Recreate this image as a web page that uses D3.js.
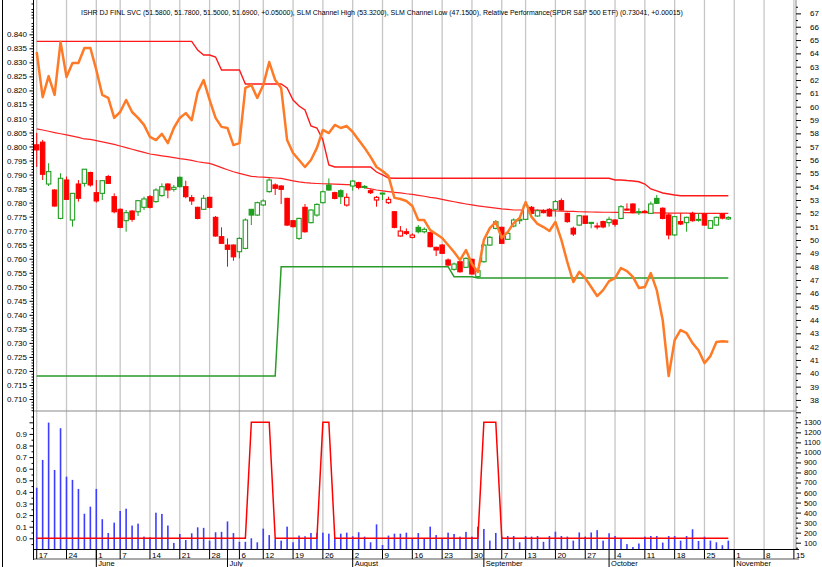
<!DOCTYPE html>
<html>
<head>
<meta charset="utf-8">
<script src="https://cdn.jsdelivr.net/npm/d3@7"></script>
<style>
  body { margin: 0; background: #fff; }
  svg { display: block; font-family: 'Liberation Sans', Arial, sans-serif; }
</style>
</head>
<body>
<svg id="chart" width="822" height="567"></svg>
<script>
// Daily prices, 17 May - 29 Oct 2010 (one entry per trading day)
const open = [57.14, 57.34, 54.20, 53.75, 51.62, 54.50, 51.50, 54.20, 54.25, 55.06,
  53.55, 53.50, 54.76, 53.25, 52.30, 51.45, 52.17, 52.12, 52.45, 53.25,
  52.88, 53.33, 54.20, 53.80, 54.70, 54.00, 53.18, 52.45, 52.30, 53.20,
  51.70, 50.25, 49.62, 49.62, 49.12, 49.37, 52.30, 51.87, 52.63, 53.63,
  54.13, 54.05, 53.12, 51.45, 50.12, 52.45, 51.30, 51.87, 52.80, 54.12,
  53.55, 53.70, 52.62, 54.05, 54.30, 53.97, 53.70, 53.00, 53.48, 52.80,
  52.12, 50.30, 50.62, 50.20, 50.95, 50.62, 50.55, 49.45, 49.62, 48.50,
  47.80, 48.37, 47.95, 48.55, 47.25, 48.37, 49.62, 50.87, 50.95, 50.05,
  51.05, 51.45, 51.55, 52.45, 51.80, 52.20, 52.30, 52.30, 52.95, 52.00,
  50.88, 51.12, 51.80, 51.30, 51.05, 51.38, 51.30, 51.50, 51.62, 52.32,
  52.70, 52.10, 52.15, 52.00, 53.12, 52.38, 51.88, 50.38, 51.38, 51.30,
  52.00, 51.50, 51.95, 50.88, 51.12, 51.95, 51.58];
const high = [58.04, 57.51, 55.76, 53.80, 55.01, 54.76, 53.50, 54.50, 55.31, 55.13,
  54.50, 54.50, 54.88, 53.50, 52.37, 52.25, 52.25, 53.00, 53.25, 53.37,
  53.88, 54.25, 54.25, 54.13, 54.76, 54.45, 53.38, 52.50, 53.38, 53.25,
  51.80, 50.95, 50.12, 49.67, 50.20, 51.62, 52.30, 52.88, 53.05, 54.63,
  54.25, 54.12, 53.17, 51.50, 51.67, 52.70, 52.30, 52.75, 53.70, 54.62,
  53.62, 53.80, 53.50, 54.50, 54.37, 54.12, 53.80, 53.30, 53.55, 53.25,
  52.17, 51.05, 50.87, 50.50, 51.12, 50.95, 50.62, 49.50, 49.70, 48.62,
  48.30, 48.45, 48.70, 48.60, 47.75, 49.75, 50.30, 51.50, 51.00, 50.55,
  51.62, 51.75, 52.80, 52.55, 52.30, 52.30, 52.38, 53.00, 53.12, 52.05,
  51.00, 51.88, 51.80, 51.35, 51.30, 51.45, 51.75, 51.55, 52.62, 52.75,
  52.75, 52.38, 52.25, 52.88, 53.38, 52.45, 52.00, 51.80, 52.00, 51.75,
  52.12, 52.00, 52.00, 51.50, 51.75, 52.00, 51.78];
const low = [55.48, 54.50, 54.05, 52.50, 51.55, 53.00, 51.00, 52.88, 54.00, 54.00,
  52.80, 53.00, 54.20, 52.00, 50.88, 50.62, 51.37, 51.80, 52.25, 52.37,
  52.80, 53.25, 53.13, 53.63, 53.95, 53.13, 52.63, 51.55, 52.25, 52.37,
  50.25, 49.70, 48.00, 48.44, 48.62, 49.30, 51.12, 51.80, 52.55, 53.55,
  53.38, 52.70, 51.05, 50.95, 50.00, 50.55, 51.25, 51.75, 52.75, 53.70,
  53.05, 52.70, 52.50, 53.70, 53.80, 53.85, 53.45, 52.50, 53.00, 52.70,
  50.88, 50.25, 50.37, 50.12, 50.50, 50.50, 49.45, 48.80, 48.95, 48.05,
  47.70, 47.55, 47.90, 47.40, 47.12, 48.30, 49.55, 50.80, 49.70, 50.00,
  50.95, 51.20, 51.50, 51.90, 51.75, 52.00, 51.75, 51.75, 52.20, 51.30,
  50.30, 51.05, 51.20, 50.88, 50.80, 50.88, 51.00, 51.00, 51.55, 52.20,
  52.00, 51.88, 52.00, 51.95, 52.70, 51.55, 50.05, 50.30, 51.12, 50.62,
  51.38, 51.38, 51.08, 50.82, 51.08, 51.55, 51.50];
const close = [56.76, 54.93, 55.13, 52.55, 54.63, 53.05, 53.50, 53.13, 55.31, 54.13,
  52.93, 54.45, 54.25, 52.12, 50.95, 52.05, 51.55, 52.95, 53.08, 52.45,
  53.75, 54.00, 53.75, 53.95, 54.00, 53.25, 52.93, 51.62, 53.13, 52.45,
  50.30, 49.75, 49.30, 48.74, 50.12, 51.50, 51.87, 52.80, 52.93, 54.50,
  53.88, 53.80, 51.12, 51.00, 51.62, 50.62, 52.25, 52.67, 53.62, 53.75,
  53.12, 53.25, 53.20, 54.42, 53.95, 54.02, 53.55, 53.20, 53.52, 53.05,
  50.95, 50.67, 50.50, 50.37, 50.62, 50.80, 49.50, 49.25, 49.00, 48.12,
  48.20, 47.62, 48.62, 47.45, 47.70, 49.62, 50.20, 51.37, 49.75, 50.50,
  51.50, 51.55, 52.60, 52.00, 52.20, 52.05, 51.80, 52.88, 52.25, 51.38,
  50.45, 51.82, 51.25, 51.32, 51.00, 50.98, 51.55, 51.18, 52.50, 52.28,
  52.05, 52.13, 52.10, 52.70, 52.75, 51.62, 50.38, 51.75, 51.20, 51.70,
  51.45, 51.55, 51.12, 51.45, 51.70, 51.64, 51.69];

// Relative performance vs SPDR S&P 500 ETF (left axis)
const relPerf = [0.8337, 0.8176, 0.8251, 0.8184, 0.8373, 0.8248, 0.8298, 0.8298, 0.8351, 0.8351,
  0.8273, 0.8184, 0.8173, 0.8102, 0.8123, 0.8166, 0.8123, 0.8102, 0.8077, 0.8034,
  0.8023, 0.8045, 0.8012, 0.8066, 0.8102, 0.8119, 0.8094, 0.8194, 0.8237, 0.8166,
  0.8102, 0.8070, 0.8066, 0.8005, 0.8012, 0.8209, 0.8219, 0.8173, 0.8219, 0.8301,
  0.8237, 0.8209, 0.8023, 0.7977, 0.7952, 0.7927, 0.7952, 0.7995, 0.8059, 0.8048,
  0.8077, 0.8066, 0.8073, 0.8052, 0.8023, 0.7995, 0.7963, 0.7927, 0.7913, 0.7895,
  0.7817, 0.7813, 0.7806, 0.7788, 0.7738, 0.7738, 0.7702, 0.7688, 0.7674, 0.7649,
  0.7624, 0.7595, 0.7631, 0.7581, 0.7553, 0.7667, 0.7709, 0.7731, 0.7674, 0.7695,
  0.7727, 0.7745, 0.7802, 0.7749, 0.7724, 0.7713, 0.7699, 0.7731, 0.7667, 0.7588,
  0.7517, 0.7553, 0.7531, 0.7499, 0.7467, 0.7488, 0.7520, 0.7531, 0.7567, 0.7556,
  0.7535, 0.7496, 0.7499, 0.7549, 0.7488, 0.7381, 0.7182, 0.7310, 0.7346, 0.7335,
  0.7299, 0.7274, 0.7228, 0.7253, 0.7303, 0.7306, 0.73041];

// SLM channel (price axis)
const channelHigh = [64.90, 64.90, 64.90, 64.90, 64.90, 64.90, 64.90, 64.90, 64.90, 64.90,
  64.90, 64.90, 64.90, 64.90, 64.90, 64.90, 64.90, 64.90, 64.90, 64.90,
  64.90, 64.90, 64.90, 64.90, 64.90, 64.90, 64.90, 64.25, 63.88, 63.88,
  63.73, 62.75, 62.75, 62.75, 62.75, 61.70, 61.70, 61.70, 61.70, 61.70,
  61.70, 61.70, 61.40, 60.50, 60.05, 59.75, 58.55, 58.40, 57.50, 55.63,
  55.48, 55.48, 55.48, 55.48, 55.48, 55.48, 55.48, 55.10, 54.88, 54.65,
  54.63, 54.63, 54.63, 54.63, 54.63, 54.63, 54.63, 54.63, 54.63, 54.63,
  54.63, 54.63, 54.63, 54.63, 54.63, 54.63, 54.63, 54.63, 54.63, 54.63,
  54.63, 54.63, 54.63, 54.63, 54.63, 54.63, 54.63, 54.63, 54.63, 54.63,
  54.63, 54.63, 54.63, 54.63, 54.63, 54.63, 54.63, 54.50, 54.50, 54.46,
  54.43, 54.37, 54.20, 53.83, 53.68, 53.53, 53.45, 53.38, 53.32, 53.32,
  53.32, 53.32, 53.32, 53.32, 53.32, 53.32, 53.32];
const channelLow = [39.80, 39.80, 39.80, 39.80, 39.80, 39.80, 39.80, 39.80, 39.80, 39.80,
  39.80, 39.80, 39.80, 39.80, 39.80, 39.80, 39.80, 39.80, 39.80, 39.80,
  39.80, 39.80, 39.80, 39.80, 39.80, 39.80, 39.80, 39.80, 39.80, 39.80,
  39.80, 39.80, 39.80, 39.80, 39.80, 39.80, 39.80, 39.80, 39.80, 39.80,
  39.80, 48.00, 48.00, 48.00, 48.00, 48.00, 48.00, 48.00, 48.00, 48.00,
  48.00, 48.00, 48.00, 48.00, 48.00, 48.00, 48.00, 48.00, 48.00, 48.00,
  48.00, 48.00, 48.00, 48.00, 48.00, 48.00, 48.00, 48.00, 48.00, 48.00,
  47.25, 47.25, 47.25, 47.25, 47.15, 47.15, 47.15, 47.15, 47.15, 47.15,
  47.15, 47.15, 47.15, 47.15, 47.15, 47.15, 47.15, 47.15, 47.15, 47.15,
  47.15, 47.15, 47.15, 47.15, 47.15, 47.15, 47.15, 47.15, 47.15, 47.15,
  47.15, 47.15, 47.15, 47.15, 47.15, 47.15, 47.15, 47.15, 47.15, 47.15,
  47.15, 47.15, 47.15, 47.15, 47.15, 47.15, 47.15];

// thin red moving average (price axis)
const movingAvg = [58.34, 58.25, 58.16, 58.06, 57.97, 57.88, 57.79, 57.70, 57.58, 57.55,
  57.45, 57.36, 57.27, 57.17, 57.05, 56.93, 56.81, 56.69, 56.57, 56.45,
  56.38, 56.31, 56.25, 56.18, 56.10, 56.05, 55.97, 55.87, 55.80, 55.75,
  55.60, 55.43, 55.27, 55.12, 55.00, 54.88, 54.78, 54.74, 54.71, 54.68,
  54.65, 54.62, 54.53, 54.44, 54.36, 54.30, 54.26, 54.24, 54.22, 54.21,
  54.19, 54.17, 54.15, 54.13, 54.03, 53.92, 53.83, 53.75, 53.69, 53.63,
  53.58, 53.53, 53.47, 53.42, 53.35, 53.28, 53.20, 53.14, 53.05, 52.96,
  52.87, 52.78, 52.70, 52.63, 52.56, 52.50, 52.45, 52.39, 52.34, 52.30,
  52.25, 52.25, 52.24, 52.24, 52.24, 52.22, 52.20, 52.18, 52.17, 52.15,
  52.14, 52.12, 52.11, 52.10, 52.09, 52.08, 52.08, 52.07, 52.07, 52.06,
  52.06, 52.05, 52.05, 52.04, 52.03, 52.03, 52.02, 52.02, 52.01, 52.01,
  52.00, 52.00, 52.00, 52.00, 52.00, 52.00, 52.00];

// lower panel: blue bars (right axis) and red signal line (left axis)
const volume = [648, 925, 1297, 825, 1241, 758, 726, 636, 389, 459,
  636, 334, 197, 300, 416, 439, 271, 290, 161, 154,
  399, 387, 271, 98, 187, 127, 194, 253, 248, 121,
  204, 208, 312, 196, 109, 109, 144, 104, 240, 176,
  136, 121, 260, 104, 171, 164, 197, 197, 200, 190,
  144, 190, 200, 164, 204, 160, 104, 283, 77, 171,
  190, 190, 200, 144, 196, 144, 260, 176, 144, 200,
  187, 160, 208, 160, 260, 237, 121, 197, 160, 167,
  167, 104, 167, 161, 167, 109, 167, 210, 167, 161,
  121, 202, 161, 202, 225, 121, 194, 167, 144, 86,
  57, 92, 161, 167, 167, 101, 167, 167, 121, 167,
  234, 117, 160, 121, 104, 75, 121];
const signal = [0, 0, 0, 0, 0, 0, 0, 0, 0, 0,
  0, 0, 0, 0, 0, 0, 0, 0, 0, 0,
  0, 0, 0, 0, 0, 0, 0, 0, 0, 0,
  0, 0, 0, 0, 0, 0, 1, 1, 1, 1,
  0, 0, 0, 0, 0, 0, 0, 0, 1, 1,
  0, 0, 0, 0, 0, 0, 0, 0, 0, 0,
  0, 0, 0, 0, 0, 0, 0, 0, 0, 0,
  0, 0, 0, 0, 0, 1, 1, 1, 0, 0,
  0, 0, 0, 0, 0, 0, 0, 0, 0, 0,
  0, 0, 0, 0, 0, 0, 0, 0, 0, 0,
  0, 0, 0, 0, 0, 0, 0, 0, 0, 0,
  0, 0, 0, 0, 0, 0, 0];

// time axis: trading-day index of each week start and month start
const weekDays = [0, 5, 10, 14, 19, 24, 29, 34, 38, 43, 48, 53, 58, 63, 68, 73, 78, 82, 87, 92, 97, 102, 107, 112, 117, 122, 127];
const weekLabels = ['17', '24', '1', '7', '14', '21', '28', '6', '12', '19', '26', '2', '9', '16', '23', '30', '7', '13', '20', '27', '4', '11', '18', '25', '1', '8', '15'];
const monthDays = [10, 32, 53, 75, 96, 117];
const monthLabels = ['June', 'July', 'August', 'September', 'October', 'November'];

// axis ticks
const relTicks = [0.710, 0.715, 0.720, 0.725, 0.730, 0.735, 0.740, 0.745, 0.750, 0.755, 0.760, 0.765, 0.770,
  0.775, 0.780, 0.785, 0.790, 0.795, 0.800, 0.805, 0.810, 0.815, 0.820, 0.825, 0.830, 0.835, 0.840];
const priceTicks = [38, 39, 40, 41, 42, 43, 44, 45, 46, 47, 48, 49, 50, 51, 52, 53, 54, 55, 56, 57, 58, 59, 60, 61, 62, 63, 64, 65, 66, 67];
const signalTicks = [0.0, 0.1, 0.2, 0.3, 0.4, 0.5, 0.6, 0.7, 0.8, 0.9];
const volumeTicks = [100, 200, 300, 400, 500, 600, 700, 800, 900, 1000, 1100, 1200, 1300];

const title = 'ISHR DJ FINL SVC (51.5800, 51.7800, 51.5000, 51.6900, +0.05000), SLM Channel High (53.3200), SLM Channel Low (47.1500), Relative Performance(SPDR S&P 500 ETF) (0.73041, +0.00015)';

document.addEventListener('DOMContentLoaded', () => {
    'use strict';

    const H = 567;
    const left = 33.5, right = 796;
    const mainTop = 0, mainBottom = 411, lowBottom = 549;
    const RED = '#ff0000', GREEN = '#1f9e1f', GRID = '#c6c6c6';
    const TITLE_WIDTH = 603;

    let svg = d3.select('#chart');

    let x = d3.scaleLinear().domain([0, 127]).range([36.7, 793.9]);
    let yRel = d3.scaleLinear().domain([0.710, 0.840]).range([399, 34.3]);
    let yPrice = d3.scaleLinear().domain([40, 50]).range([373.3, 240]);
    let ySig = d3.scaleLinear().domain([0, 0.9]).range([538.3, 433.9]);
    let yVol = d3.scaleLinear().domain([100, 1300]).range([542.7, 422.3]);

    let defs = svg.append('defs');
    defs.append('clipPath').attr('id', 'clip-main')
      .append('rect').attr('x', left).attr('y', mainTop).attr('width', right - left).attr('height', mainBottom - mainTop);
    defs.append('clipPath').attr('id', 'clip-low')
      .append('rect').attr('x', left).attr('y', mainBottom).attr('width', right - left).attr('height', lowBottom - mainBottom);

    // weekly grid lines through both panels
    svg.append('g')
        .selectAll('line')
        .data(weekDays)
      .enter().append('line')
        .attr('x1', d => x(d)).attr('x2', d => x(d))
        .attr('y1', mainTop).attr('y2', lowBottom)
        .attr('stroke', GRID)
        .attr('stroke-width', 1.3);

    // title: size the font so the line spans the same width as the original
    let titleText = svg.append('text')
        .attr('x', 81)
        .attr('y', 15)
        .attr('font-size', 8.5)
        .attr('fill', '#000')
        .text(title);
    let natural = titleText.node().getComputedTextLength();
    if (natural > TITLE_WIDTH) titleText.attr('font-size', 8.5 * TITLE_WIDTH / natural);

    let mainPanel = svg.append('g').attr('clip-path', 'url(#clip-main)');
    let days = d3.range(open.length);

    let priceLine = arr => d3.line().x(i => x(i)).y(i => yPrice(arr[i]));

    mainPanel.append('path')
        .attr('d', priceLine(movingAvg)(days))
        .attr('fill', 'none').attr('stroke', '#ff2222').attr('stroke-width', 1.2);
    mainPanel.append('path')
        .attr('d', priceLine(channelHigh)(days))
        .attr('fill', 'none').attr('stroke', '#ff1a1a').attr('stroke-width', 1.4);
    mainPanel.append('path')
        .attr('d', priceLine(channelLow)(days))
        .attr('fill', 'none').attr('stroke', '#2a9a2a').attr('stroke-width', 1.5);

    // candles: colour by change from previous close, hollow when close > open
    let colorOf = i => (i > 0 && close[i] >= close[i - 1]) ? GREEN : RED;
    let candles = mainPanel.append('g')
        .selectAll('g')
        .data(days)
      .enter().append('g');

    candles.append('line')
        .attr('x1', i => x(i)).attr('x2', i => x(i))
        .attr('y1', i => yPrice(high[i])).attr('y2', i => yPrice(low[i]))
        .attr('stroke', colorOf)
        .attr('stroke-width', 1);

    candles.append('rect')
        .attr('x', i => x(i) - 2.2)
        .attr('width', 4.4)
        .attr('y', i => yPrice(Math.max(open[i], close[i])))
        .attr('height', i => Math.max(1, Math.abs(yPrice(open[i]) - yPrice(close[i]))))
        .attr('fill', i => close[i] > open[i] ? '#fff' : colorOf(i))
        .attr('stroke', colorOf)
        .attr('stroke-width', 1.1);

    mainPanel.append('path')
        .attr('d', d3.line().x(i => x(i)).y(i => yRel(relPerf[i]))(days))
        .attr('fill', 'none')
        .attr('stroke', '#ff7a26')
        .attr('stroke-width', 2.5)
        .attr('stroke-linejoin', 'round');

    // lower panel
    let lowerPanel = svg.append('g').attr('clip-path', 'url(#clip-low)');
    lowerPanel.append('g')
        .selectAll('rect')
        .data(days)
      .enter().append('rect')
        .attr('x', i => x(i) - 0.8)
        .attr('width', 1.6)
        .attr('y', i => yVol(volume[i]))
        .attr('height', i => lowBottom - yVol(volume[i]))
        .attr('fill', '#3d3dff');
    lowerPanel.append('path')
        .attr('d', d3.line().x(i => x(i)).y(i => ySig(signal[i]))(days))
        .attr('fill', 'none')
        .attr('stroke', RED)
        .attr('stroke-width', 1.5);

    // frame lines
    svg.append('line').attr('x1', 2.5).attr('x2', 2.5).attr('y1', 0).attr('y2', H)
        .attr('stroke', '#000').attr('stroke-width', 1);
    svg.append('line').attr('x1', left).attr('x2', right).attr('y1', mainBottom).attr('y2', mainBottom)
        .attr('stroke', '#8a8a8a').attr('stroke-width', 1.2);
    svg.append('line').attr('x1', right).attr('x2', right).attr('y1', 0).attr('y2', lowBottom)
        .attr('stroke', '#9a9a9a').attr('stroke-width', 1.2);
    svg.append('line').attr('x1', left).attr('x2', left).attr('y1', 0).attr('y2', 560)
        .attr('stroke', '#000').attr('stroke-width', 1);

    // axes: labelled major ticks, then bare minor ticks
    let styleAxis = size => g => {
        g.select('.domain').remove();
        g.selectAll('line').attr('stroke', '#000');
        g.selectAll('text').filter(function() { return this.textContent === ''; }).remove();
        g.selectAll('text').attr('font-size', size).attr('fill', '#000').attr('font-family', "'Liberation Sans', Arial, sans-serif");
    };
    let minorRel = d3.range(706, 852).map(d => d / 1000).filter(d => Math.round(d * 1000) % 5 !== 0);
    let minorPrice = d3.range(37.5, 68, 0.5).filter(d => d % 1 !== 0);
    let minorSig = [-0.05, 0.05, 0.15, 0.25, 0.35, 0.45, 0.55, 0.65, 0.75, 0.85, 0.95, 1.05];
    let minorVol = [50, 150, 250, 350, 450, 550, 650, 750, 850, 950, 1050, 1150, 1250, 1350];

    svg.append('g').attr('transform', `translate(${left},0)`)
        .call(d3.axisLeft(yRel).tickValues(relTicks).tickFormat(d3.format('.3f')).tickSize(4).tickPadding(2.5))
        .call(styleAxis(8));
    svg.append('g').attr('transform', `translate(${left},0)`)
        .call(d3.axisLeft(yRel).tickValues(minorRel.filter(d => yRel(d) > 0 && yRel(d) < mainBottom)).tickFormat('').tickSize(2))
        .call(styleAxis(8));

    svg.append('g').attr('transform', `translate(${right},0)`)
        .call(d3.axisRight(yPrice).tickValues(priceTicks).tickFormat(d3.format('d')).tickSize(5).tickPadding(9))
        .call(styleAxis(8));
    svg.append('g').attr('transform', `translate(${right},0)`)
        .call(d3.axisRight(yPrice).tickValues(minorPrice.filter(d => yPrice(d) > 2 && yPrice(d) < mainBottom)).tickFormat('').tickSize(2))
        .call(styleAxis(8));

    svg.append('g').attr('transform', `translate(${left},0)`)
        .call(d3.axisLeft(ySig).tickValues(signalTicks.concat([1.0])).tickFormat(d => d < 0.95 ? d3.format('.1f')(d) : '').tickSize(4).tickPadding(2.5))
        .call(styleAxis(8));
    svg.append('g').attr('transform', `translate(${left},0)`)
        .call(d3.axisLeft(ySig).tickValues(minorSig).tickFormat('').tickSize(2))
        .call(styleAxis(8));

    svg.append('g').attr('transform', `translate(${right},0)`)
        .call(d3.axisRight(yVol).tickValues(volumeTicks.concat([1400])).tickFormat(d => d < 1350 ? d : '').tickSize(5).tickPadding(3))
        .call(styleAxis(7.7));
    svg.append('g').attr('transform', `translate(${right},0)`)
        .call(d3.axisRight(yVol).tickValues(minorVol).tickFormat('').tickSize(2))
        .call(styleAxis(7.7));

    // date strip
    let strip = svg.append('g');
    strip.append('line').attr('x1', left).attr('x2', 799).attr('y1', lowBottom + 0.5).attr('y2', lowBottom + 0.5)
        .attr('stroke', '#000').attr('stroke-width', 1.2);
    strip.append('line').attr('x1', left).attr('x2', 799).attr('y1', 559).attr('y2', 559)
        .attr('stroke', '#555').attr('stroke-width', 1.2);

    let weeks = strip.append('g')
        .selectAll('g')
        .data(weekDays)
      .enter().append('g')
        .attr('transform', d => `translate(${x(d)},0)`);
    weeks.append('line')
        .attr('y1', lowBottom).attr('y2', 559)
        .attr('stroke', '#000').attr('stroke-width', 1);
    weeks.append('text')
        .attr('x', 2).attr('y', 557.5)
        .attr('font-size', 8)
        .text((d, i) => weekLabels[i]);

    let months = strip.append('g')
        .selectAll('g')
        .data(monthDays)
      .enter().append('g')
        .attr('transform', d => `translate(${x(d)},0)`);
    months.append('line')
        .attr('y1', lowBottom).attr('y2', H)
        .attr('stroke', '#000').attr('stroke-width', 1);
    months.append('text')
        .attr('x', 2).attr('y', 565.5)
        .attr('font-size', 7.5)
        .text((d, i) => monthLabels[i]);
});
</script>
</body>
</html>
